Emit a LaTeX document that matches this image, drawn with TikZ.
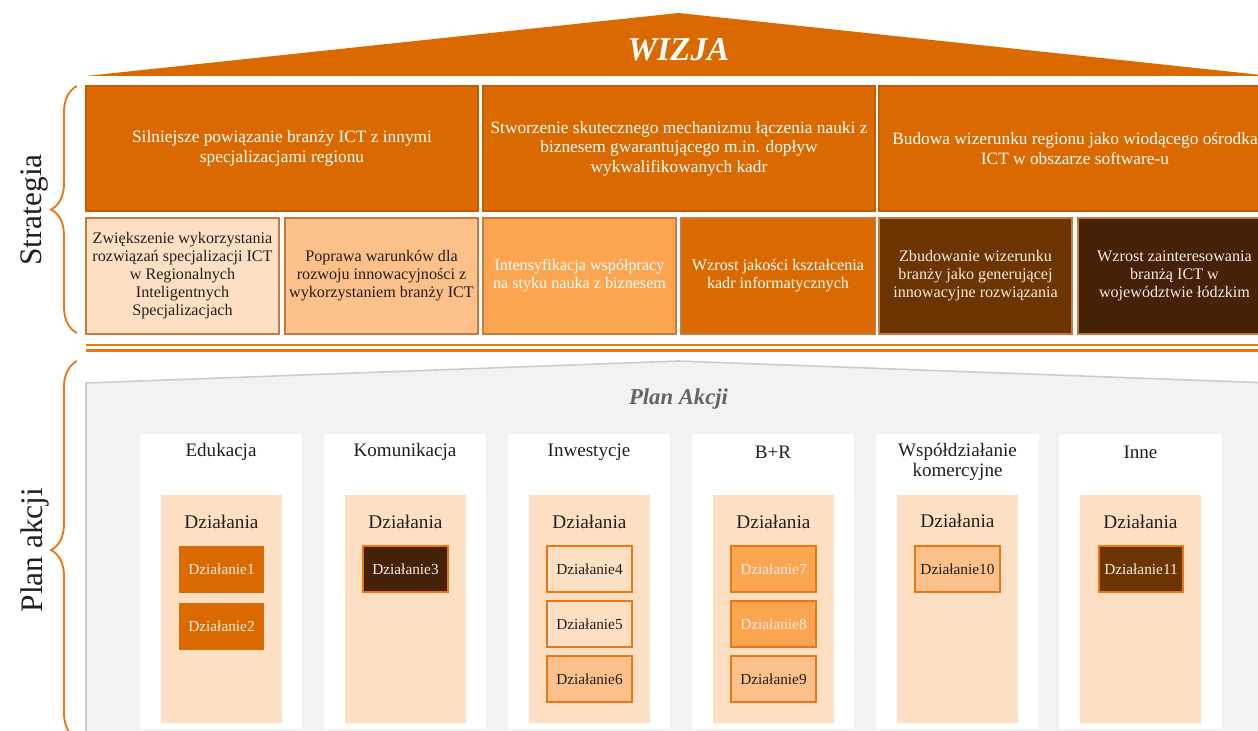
\documentclass[tikz,border=0pt]{standalone}
\usepackage{fontspec}
\setmainfont{Liberation Serif}
\usetikzlibrary{decorations.pathreplacing}
\definecolor{wizOrange}{RGB}{218,105,0}
\definecolor{goalEdge}{RGB}{196,92,0}
\definecolor{peach}{RGB}{253,224,196}
\definecolor{lightOr}{RGB}{252,192,138}
\definecolor{midOr}{RGB}{252,165,80}
\definecolor{brownA}{RGB}{108,52,0}
\definecolor{brownB}{RGB}{69,33,8}
\definecolor{aimEdge}{RGB}{200,122,62}
\definecolor{actEdge}{RGB}{234,118,22}
\definecolor{greyBg}{RGB}{242,242,242}
\definecolor{greyLine}{RGB}{204,204,204}
\definecolor{planGrey}{RGB}{100,100,100}
\definecolor{txtDark}{RGB}{38,30,26}
\definecolor{txtLight}{RGB}{246,236,226}

\begin{document}
\begin{tikzpicture}[x=0.75pt,y=0.75pt,yscale=-1,xscale=1,
    goalbox/.style={fill=wizOrange,draw=goalEdge,line width=0.8pt},
    aimbox/.style={draw=aimEdge,line width=0.8pt},
    actbox/.style={draw=actEdge,line width=0.9pt},
    goaltxt/.style={align=center,inner sep=0.75pt,text=white,font=\fontsize{13}{14.6}\selectfont},
    aimtxt/.style={align=center,inner sep=0.75pt,font=\fontsize{12.1}{13.5}\selectfont},
    coltxt/.style={align=center,inner sep=0.75pt,text=txtDark,font=\fontsize{14.3}{15}\selectfont},
    acttxt/.style={inner sep=0.75pt,font=\fontsize{11.5}{13}\selectfont},
    sidetxt/.style={rotate=90,inner sep=0.75pt,text=txtDark,font=\fontsize{23.5}{26}\selectfont},
    sidebrace/.style={draw=actEdge,line width=1.4pt,decorate,decoration={brace,amplitude=19.5pt}}
]
\useasboundingbox (0,0) rectangle (1258,731);

%Shape: Roof
\fill[wizOrange] (86,76) -- (678.5,13) -- (1271,76) -- cycle ;
% Text Node
\node[inner sep=0.75pt,text=white,font=\fontsize{25}{30}\selectfont\bfseries\itshape] (wizja) at (678.5,50) {WIZJA};

%Shape: Rectangle (goals)
\draw[goalbox] (86,86) rectangle (478,211) ;
\draw[goalbox] (483,86) rectangle (875,211) ;
\draw[goalbox] (879,86) rectangle (1271,211) ;
% Text Node
\node[goaltxt] (goal1) at (282,148.5) {Silniejsze powiązanie branży ICT z innymi\\specjalizacjami regionu};
% Text Node
\node[goaltxt] (goal2) at (679,148.5) {Stworzenie skutecznego mechanizmu łączenia nauki z\\biznesem gwarantującego m.in. dopływ\\wykwalifikowanych kadr};
% Text Node
\node[goaltxt] (goal3) at (1075,148.5) {Budowa wizerunku regionu jako wiodącego ośrodka\\ICT w obszarze software-u};

%Shape: Rectangle (aims)
\draw[aimbox,fill=peach] (86,218) rectangle (279,334) ;
\draw[aimbox,fill=lightOr] (285,218) rectangle (478,334) ;
\draw[aimbox,fill=midOr] (483,218) rectangle (676,334) ;
\draw[aimbox,fill=wizOrange] (681,218) rectangle (875,334) ;
\draw[aimbox,fill=brownA] (879,218) rectangle (1072,334) ;
\draw[aimbox,fill=brownB] (1078,218) rectangle (1271,334) ;
% Text Node
\node[aimtxt,text=txtDark] (aim1) at (182.5,276) {Zwiększenie wykorzystania\\rozwiązań specjalizacji ICT\\w Regionalnych\\Inteligentnych\\Specjalizacjach};
% Text Node
\node[aimtxt,text=txtDark] (aim2) at (381.5,276) {Poprawa warunków dla\\rozwoju innowacyjności z\\wykorzystaniem branży ICT};
% Text Node
\node[aimtxt,text=white] (aim3) at (579.5,276) {Intensyfikacja współpracy\\na styku nauka z biznesem};
% Text Node
\node[aimtxt,text=white] (aim4) at (778,276) {Wzrost jakości kształcenia\\kadr informatycznych};
% Text Node
\node[aimtxt,text=txtLight] (aim5) at (975.5,276) {Zbudowanie wizerunku\\branży jako generującej\\innowacyjne rozwiązania};
% Text Node
\node[aimtxt,text=txtLight] (aim6) at (1174.5,276) {Wzrost zainteresowania\\branżą ICT w\\województwie łódzkim};

%Shape: Double line
\draw[actEdge,line width=1.5pt] (86,345.5) -- (1271,345.5) ;
\draw[actEdge,line width=1.5pt] (86,350.5) -- (1271,350.5) ;

%Shape: Braces
\draw[sidebrace] (77,333) -- (77,86) ;
\draw[sidebrace] (77,739) -- (77,361) ;
% Text Node
\node[sidetxt] (strategia) at (35,210) {Strategia};
% Text Node
\node[sidetxt] (planakcji) at (35,550) {Plan akcji};

%Shape: House (plan)
\draw[fill=greyBg,draw=greyLine,line width=1.2pt] (86,745) -- (86,383) -- (678.5,361) -- (1271,383) -- (1271,745) ;
% Text Node
\node[inner sep=0.75pt,text=planGrey,font=\fontsize{17}{20}\selectfont\bfseries\itshape] (plan) at (678.5,399) {Plan Akcji};

%Shape: Columns
\fill[white] (140,434) rectangle (302,729) ;
\fill[white] (324,434) rectangle (486,729) ;
\fill[white] (508,434) rectangle (670,729) ;
\fill[white] (692,434) rectangle (854,729) ;
\fill[white] (876,434) rectangle (1039,729) ;
\fill[white] (1059,434) rectangle (1222,729) ;
\fill[peach] (161,495) rectangle (282,723) ;
\fill[peach] (345,495) rectangle (466,723) ;
\fill[peach] (529,495) rectangle (650,723) ;
\fill[peach] (713,495) rectangle (834,723) ;
\fill[peach] (897,495) rectangle (1018,723) ;
\fill[peach] (1080,495) rectangle (1201,723) ;

% Text Node
\node[coltxt] (edu) at (221,452) {Edukacja};
% Text Node
\node[coltxt] (kom) at (405,452) {Komunikacja};
% Text Node
\node[coltxt] (inw) at (589,452) {Inwestycje};
% Text Node
\node[coltxt] (br) at (773,452) {B+R};
% Text Node
\node[coltxt] (wsp) at (957.5,462) {Współdziałanie\\komercyjne};
% Text Node
\node[coltxt] (inne) at (1140.5,452) {Inne};

% Text Node
\node[coltxt,font=\fontsize{14.5}{16}\selectfont] (dz1) at (221.5,522) {Działania};
\node[coltxt,font=\fontsize{14.5}{16}\selectfont] (dz2) at (405.5,522) {Działania};
\node[coltxt,font=\fontsize{14.5}{16}\selectfont] (dz3) at (589.5,522) {Działania};
\node[coltxt,font=\fontsize{14.5}{16}\selectfont] (dz4) at (773.5,522) {Działania};
\node[coltxt,font=\fontsize{14.5}{16}\selectfont] (dz5) at (957.5,521) {Działania};
\node[coltxt,font=\fontsize{14.5}{16}\selectfont] (dz6) at (1140.5,522) {Działania};

%Shape: Rectangle (actions)
\fill[wizOrange] (179,546) rectangle (264,593) ;
\fill[wizOrange] (179,603) rectangle (264,650) ;
\draw[actbox,fill=brownB] (363,546) rectangle (448,592) ;
\draw[actbox,fill=peach] (547,546) rectangle (632,592) ;
\draw[actbox,fill=peach] (547,601) rectangle (632,647) ;
\draw[actbox,fill=lightOr] (547,656) rectangle (632,702) ;
\draw[actbox,fill=midOr] (731,546) rectangle (816,592) ;
\draw[actbox,fill=midOr] (731,601) rectangle (816,647) ;
\draw[actbox,fill=lightOr] (731,656) rectangle (816,702) ;
\draw[actbox,fill=lightOr] (915,546) rectangle (1000,592) ;
\draw[actbox,fill=brownA] (1099,546) rectangle (1183,592) ;

% Text Node
\node[acttxt,text=txtLight] (act1) at (221.5,569.5) {Działanie1};
\node[acttxt,text=txtLight] (act2) at (221.5,626.5) {Działanie2};
\node[acttxt,text=txtLight] (act3) at (405.5,569) {Działanie3};
\node[acttxt,text=txtDark] (act4) at (589.5,569) {Działanie4};
\node[acttxt,text=txtDark] (act5) at (589.5,624) {Działanie5};
\node[acttxt,text=txtDark] (act6) at (589.5,679) {Działanie6};
\node[acttxt,text=txtLight] (act7) at (773.5,569) {Działanie7};
\node[acttxt,text=txtLight] (act8) at (773.5,624) {Działanie8};
\node[acttxt,text=txtDark] (act9) at (773.5,679) {Działanie9};
\node[acttxt,text=txtDark] (act10) at (957.5,569) {Działanie10};
\node[acttxt,text=txtLight] (act11) at (1141,569) {Działanie11};

\end{tikzpicture}
\end{document}
